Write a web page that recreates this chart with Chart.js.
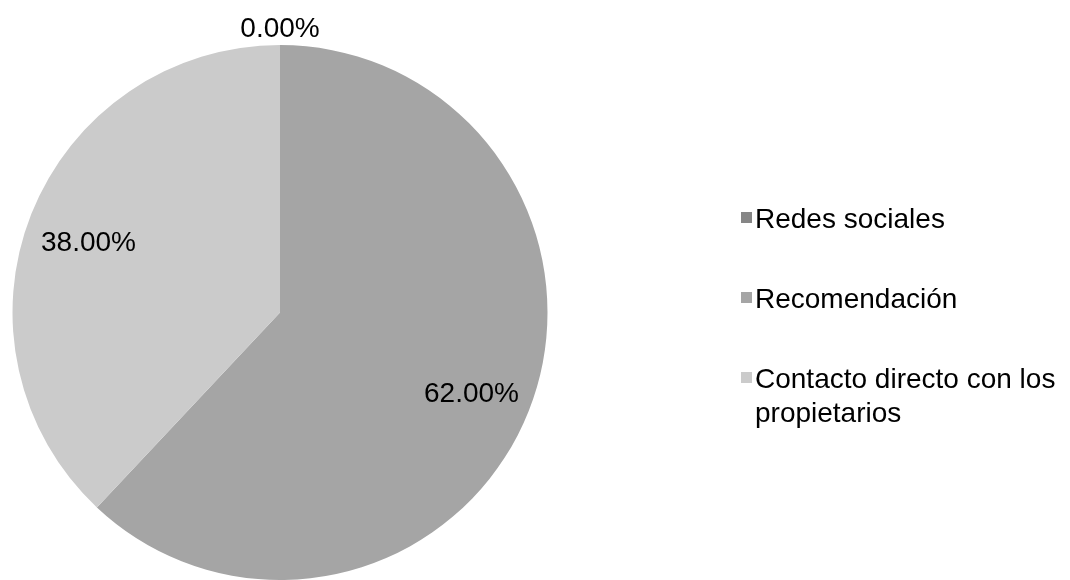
<!DOCTYPE html>
<html>
<head>
<meta charset="utf-8">
<script src="https://cdn.jsdelivr.net/npm/chart.js@4"></script>
<style>
  html, body { margin: 0; padding: 0; background: #fff; }
  #wrap { width: 1070px; height: 580px; position: relative; }
</style>
</head>
<body>
<div id="wrap"><canvas id="chartFuente"></canvas></div>
<script>
// Datos del gráfico
const categorias = ['Redes sociales', 'Recomendación', 'Contacto directo con los propietarios'];
const porcentajes = [0, 62, 38];
const colores = ['#868686', '#a5a5a5', '#cbcbcb'];

const FONT = '"Liberation Sans", Arial, sans-serif';
const TAM = 28;

// Etiquetas de porcentaje sobre cada sector
const etiquetasPlugin = {
  id: 'etiquetas',
  afterDatasetsDraw(chart) {
    const ctx = chart.ctx;
    const meta = chart.getDatasetMeta(0);
    ctx.save();
    ctx.font = TAM + 'px ' + FONT;
    ctx.fillStyle = '#000';
    ctx.textAlign = 'center';
    ctx.textBaseline = 'alphabetic';
    meta.data.forEach((arc, i) => {
      const v = chart.data.datasets[0].data[i];
      const mid = (arc.startAngle + arc.endAngle) / 2;
      const r = v === 0 ? arc.outerRadius + 18 : arc.outerRadius * 0.77;
      const x = arc.x + Math.cos(mid) * r;
      const y = arc.y + Math.sin(mid) * r;
      // centrar la altura de los dígitos en el punto
      ctx.fillText(v.toFixed(2) + '%', x, y + TAM * 0.36 + (v === 0 ? 0 : 4));
    });
    ctx.restore();
  }
};

// Leyenda a la derecha, con salto de línea en textos largos
const leyendaPlugin = {
  id: 'leyenda',
  afterDraw(chart) {
    const ctx = chart.ctx;
    const x0 = 741, base0 = 228, paso = 80, maxW = 310, interlinea = 34;
    ctx.save();
    ctx.font = TAM + 'px ' + FONT;
    ctx.textBaseline = 'alphabetic';
    chart.data.labels.forEach((lab, i) => {
      const base = base0 + i * paso;
      ctx.fillStyle = chart.data.datasets[0].backgroundColor[i];
      ctx.fillRect(x0, base - 16, 11, 11);
      ctx.fillStyle = '#000';
      const palabras = lab.split(' ');
      const lineas = [];
      let linea = '';
      palabras.forEach(p => {
        const t = linea ? linea + ' ' + p : p;
        if (ctx.measureText(t).width > maxW && linea) {
          lineas.push(linea);
          linea = p;
        } else {
          linea = t;
        }
      });
      lineas.push(linea);
      lineas.forEach((l, k) => ctx.fillText(l, x0 + 14, base + k * interlinea));
    });
    ctx.restore();
  }
};

new Chart(document.getElementById('chartFuente'), {
  type: 'pie',
  data: {
    labels: categorias,
    datasets: [{
      data: porcentajes,
      backgroundColor: colores,
      borderWidth: 0
    }]
  },
  options: {
    responsive: true,
    maintainAspectRatio: false,
    animation: false,
    layout: { padding: { left: 12, right: 522, top: 45, bottom: 0 } },
    plugins: {
      legend: { display: false },
      tooltip: { enabled: false }
    }
  },
  plugins: [etiquetasPlugin, leyendaPlugin]
});
</script>
</body>
</html>
